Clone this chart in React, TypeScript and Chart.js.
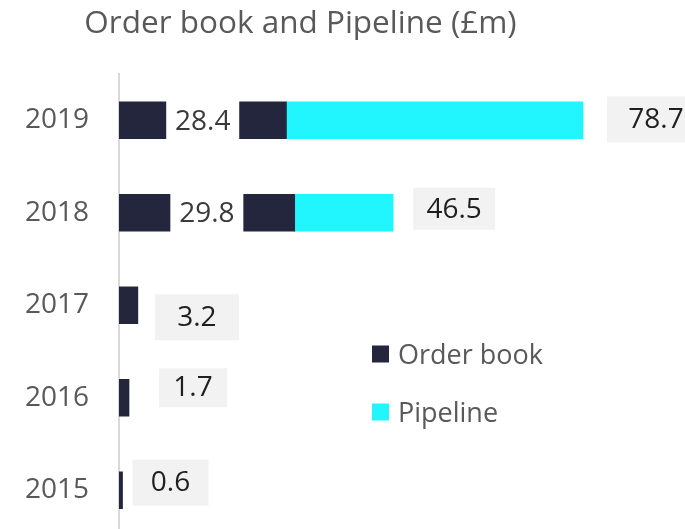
import React, { useEffect, useRef } from "react";
import { Chart, registerables } from "chart.js";

Chart.register(...registerables);

// ---- data ----
const years = ["2019", "2018", "2017", "2016", "2015"];
const orderBook = [28.4, 29.8, 3.2, 1.7, 0.6];
const pipeline = [50.3, 16.7, null, null, null];
const seriesNames = ["Order book", "Pipeline"];
const titleText = "Order book and Pipeline (£m)";

// ---- styles ----
const NAVY = "#24263e";
const CYAN = "#21f5fe";
const GREY_TEXT = "#595959";
const LABEL_TEXT = "#1f1f1f";
const BOX_GREY = "#f2f2f2";
const FONT = "'Open Sans', sans-serif";

// label boxes (manual placement as in the original): dx from bar end / or centered, dy from bar centre
const obLabelLayout = [
  { inside: true, w: 73, h: 46, dy: 1 },
  { inside: true, w: 73, h: 46, dy: 1 },
  { inside: false, dx: 17, w: 84, h: 46, dy: 12 },
  { inside: false, dx: 30, w: 68, h: 39, dy: -10 },
  { inside: false, dx: 10, w: 76, h: 46, dy: -7.5 },
];
const totalLabelLayout = [
  { dx: 24, w: 98, h: 46, dy: -1 },
  { dx: 20, w: 82, h: 42, dy: -4 },
];

const labelsPlugin = {
  id: "customLabels",
  afterDatasetsDraw(chart: any) {
    const ctx = chart.ctx;
    const xScale = chart.scales.x;
    const obMeta = chart.getDatasetMeta(0);
    ctx.save();
    ctx.font = `28px ${FONT}`;
    ctx.textAlign = "center";
    ctx.textBaseline = "alphabetic";
    const cap = 28 * 0.714;
    orderBook.forEach((v, i) => {
      const bar = obMeta.data[i];
      const lay = obLabelLayout[i];
      const cy = bar.y + lay.dy;
      let cx: number;
      if (lay.inside) {
        cx = (xScale.getPixelForValue(0) + bar.x) / 2;
        ctx.fillStyle = "#ffffff";
        ctx.fillRect(cx - lay.w / 2, cy - lay.h / 2, lay.w, lay.h);
        ctx.fillStyle = "#3a3a3a";
      } else {
        const left = bar.x + (lay.dx as number);
        cx = left + lay.w / 2;
        ctx.fillStyle = BOX_GREY;
        ctx.fillRect(left, cy - lay.h / 2, lay.w, lay.h);
        ctx.fillStyle = LABEL_TEXT;
      }
      ctx.fillText(v.toFixed(1), cx, cy - 1.5 + cap / 2);
    });
    const plMeta = chart.getDatasetMeta(1);
    pipeline.forEach((p, i) => {
      if (p == null) return;
      const bar = plMeta.data[i];
      const lay = totalLabelLayout[i];
      const total = orderBook[i] + p;
      const left = bar.x + lay.dx;
      const cy = bar.y + lay.dy;
      ctx.fillStyle = BOX_GREY;
      ctx.fillRect(left, cy - lay.h / 2, lay.w, lay.h);
      ctx.fillStyle = LABEL_TEXT;
      ctx.fillText(total.toFixed(1), left + lay.w / 2, cy - 1 + cap / 2);
    });
    ctx.restore();
  },
  afterDraw(chart: any) {
    const ctx = chart.ctx;
    ctx.save();
    // title
    ctx.font = `31.5px ${FONT}`;
    ctx.fillStyle = GREY_TEXT;
    ctx.textAlign = "center";
    ctx.textBaseline = "alphabetic";
    ctx.fillText(titleText, 300.5, 33);
    // legend
    const colors = [NAVY, CYAN];
    ctx.font = `27px ${FONT}`;
    ctx.textAlign = "left";
    seriesNames.forEach((name, i) => {
      const y = 354 + i * 58;
      ctx.fillStyle = colors[i];
      ctx.fillRect(372, y - 8.5, 17, 17);
      ctx.fillStyle = GREY_TEXT;
      ctx.fillText(name, 398, y + 27 * 0.714 / 2);
    });
    ctx.restore();
  },
};

export default function App() {
  const ref = useRef<HTMLCanvasElement | null>(null);
  useEffect(() => {
    if (!ref.current) return;
    const chart = new Chart(ref.current, {
      type: "bar",
      data: {
        labels: years,
        datasets: [
          {
            label: seriesNames[0],
            data: orderBook,
            backgroundColor: NAVY,
            borderWidth: 0,
            barThickness: 37,
            stack: "s",
          },
          {
            label: seriesNames[1],
            data: pipeline,
            backgroundColor: CYAN,
            borderWidth: 0,
            barThickness: 37,
            stack: "s",
          },
        ],
      },
      options: {
        indexAxis: "y",
        responsive: false,
        animation: false,
        devicePixelRatio: 1,
        layout: { padding: { top: 74, bottom: 8.5, left: 25, right: 0 } },
        plugins: {
          legend: { display: false },
          title: { display: false },
          tooltip: { enabled: false },
        },
        scales: {
          x: {
            display: false,
            stacked: true,
            min: 0,
            max: 96,
          },
          y: {
            stacked: true,
            afterFit: (s: any) => {
              s.width = 94;
            },
            grid: { display: false, drawTicks: false },
            border: { display: true, color: "#d9d9d9", width: 2 },
            ticks: {
              padding: 0,
              crossAlign: "far",
              color: GREY_TEXT,
              font: { family: FONT, size: 28, lineHeight: 0.5 },
            },
          },
        },
      },
      plugins: [labelsPlugin],
    });
    return () => chart.destroy();
  }, []);
  return (
    <div
      style={{
        position: "absolute",
        left: 0,
        top: 0,
        width: 685,
        height: 529,
        overflow: "hidden",
        background: "#ffffff",
      }}
    >
      <canvas ref={ref} width={685} height={545} style={{ display: "block" }} />
    </div>
  );
}
